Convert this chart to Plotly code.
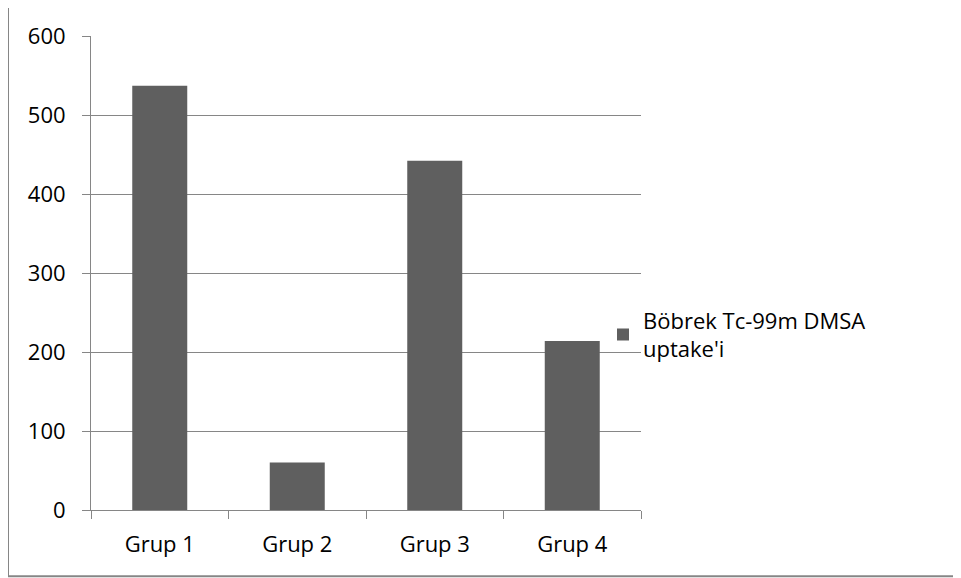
import plotly.graph_objects as go

categories = ["Grup 1", "Grup 2", "Grup 3", "Grup 4"]
values = [537, 60, 442, 214]
series_name = "Böbrek Tc-99m DMSA<br>uptake'i"
y_ticks = [0, 100, 200, 300, 400, 500, 600]

# page body adds an 8px offset, so figure coordinates are shifted
OFF = 8
W, H = 961 - OFF, 578 - OFF
L, R, T, B = 91 - OFF, 641 - OFF, 31 - OFF, 510 - OFF  # plot area in figure pixels


def px_x(x):
    return (x - OFF - L) / (R - L)


def px_y(y):
    return (B - (y - OFF)) / (B - T)


GRID = "#868686"
BAR = "#5f5f5f"
FONT = "Open Sans"

fig = go.Figure()
fig.add_trace(go.Bar(
    x=categories, y=values, name=series_name,
    marker=dict(color=BAR, line=dict(width=0)),
    width=0.4, showlegend=True,
))

fig.update_layout(
    width=W, height=H,
    margin=dict(l=L, r=W - R, t=T, b=H - B, pad=0),
    paper_bgcolor="white", plot_bgcolor="white",
    font=dict(family=FONT, size=22, color="black"),
    showlegend=True,
    legend=dict(
        x=px_x(603), y=px_y(333), xanchor="left", yanchor="middle",
        bgcolor="rgba(0,0,0,0)", borderwidth=0,
        font=dict(family=FONT, size=22, color="black"),
    ),
    xaxis=dict(
        type="category", range=[-0.5, 3.5],
        showline=True, linecolor=GRID, linewidth=1,
        ticks="outside", tickson="boundaries", ticklen=8, tickcolor=GRID,
        showgrid=False, ticklabelstandoff=15,
        tickfont=dict(family=FONT, size=22, color="black"),
    ),
    yaxis=dict(
        range=[0, 600], tickvals=y_ticks,
        showline=True, linecolor=GRID, linewidth=1,
        ticks="outside", ticklen=8, tickcolor=GRID,
        showgrid=True, gridcolor=GRID, gridwidth=1,
        zeroline=False, ticklabelstandoff=12,
        tickfont=dict(family=FONT, size=22, color="black"),
    ),
    shapes=[dict(
        type="rect", xref="paper", yref="paper",
        x0=px_x(8), x1=px_x(975), y0=px_y(577), y1=px_y(1),
        line=dict(color=GRID, width=2), fillcolor="rgba(0,0,0,0)",
        layer="below",
    )],
)

fig.write_html("out.html")
